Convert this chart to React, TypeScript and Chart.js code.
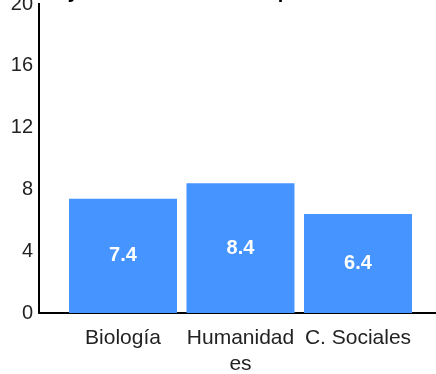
import React, { useEffect, useRef } from "react";
import { Chart, registerables } from "chart.js";

Chart.register(...registerables);

const categories: (string | string[])[] = ["Biología", ["Humanidad", "es"], "C. Sociales"];
const values = [7.4, 8.4, 6.4];
const yTicks = [0, 4, 8, 12, 16, 20];
const titleText = "Promedio y total de estudiantes por área";

const FONT = "Arial, 'Liberation Sans', sans-serif";
const BAR_COLOR = "#4694FF";

export default function App() {
  const ref = useRef<HTMLCanvasElement | null>(null);

  useEffect(() => {
    if (!ref.current) return;
    const valueLabels = {
      id: "valueLabels",
      afterDatasetsDraw(chart: any) {
        const ctx = chart.ctx;
        const meta = chart.getDatasetMeta(0);
        ctx.save();
        ctx.fillStyle = "#ffffff";
        ctx.font = `bold 20px ${FONT}`;
        ctx.textAlign = "center";
        ctx.textBaseline = "middle";
        meta.data.forEach((bar: any, i: number) => {
          const y = (bar.y + bar.base) / 2;
          ctx.fillText(values[i].toFixed(1), bar.x, y);
        });
        ctx.restore();
      },
    };

    const chart = new Chart(ref.current, {
      type: "bar",
      data: {
        datasets: [
          {
            data: values.map((v, i) => ({ x: i, y: v })),
            backgroundColor: BAR_COLOR,
            borderWidth: 0,
            barPercentage: 0.919,
            categoryPercentage: 1,
          },
        ],
      },
      options: {
        responsive: false,
        animation: false,
        events: [],
        layout: { padding: { left: 0, right: 10, top: 0, bottom: 0 } },
        plugins: {
          legend: { display: false },
          tooltip: { enabled: false },
          title: {
            display: true,
            text: titleText,
            align: "start",
            color: "#000",
            font: { family: FONT, size: 20, weight: "bold" },
            padding: { top: 20, bottom: 0 },
          },
        },
        scales: {
          x: {
            type: "linear",
            min: -0.7149,
            max: 2.9532,
            offset: false,
            grid: { display: false, drawTicks: false, offset: false },
            border: { display: true, color: "#000", width: 2 },
            afterBuildTicks: (scale: any) => {
              scale.ticks = categories.map((_, i) => ({ value: i }));
            },
            afterFit: (scale: any) => {
              scale.height = 61;
            },
            ticks: {
              autoSkip: false,
              maxRotation: 0,
              minRotation: 0,
              padding: 12,
              color: "#222",
              font: { family: FONT, size: 21, lineHeight: 1.24 },
              callback: (_v: any, i: number) => categories[i] as any,
            },
          },
          y: {
            min: 0,
            max: 20,
            grid: { display: false, drawTicks: false },
            border: { display: true, color: "#000", width: 2 },
            afterBuildTicks: (scale: any) => {
              scale.ticks = yTicks.map((v) => ({ value: v }));
            },
            afterFit: (scale: any) => {
              scale.width = 69;
            },
            ticks: {
              padding: 6,
              color: "#222",
              font: { family: FONT, size: 20 },
            },
          },
        },
      },
      plugins: [valueLabels],
    } as any);
    return () => chart.destroy();
  }, []);

  return (
    <div
      style={{
        position: "fixed",
        left: 0,
        top: 0,
        width: 436,
        height: 374,
        overflow: "hidden",
        background: "#fff",
      }}
    >
      <canvas
        ref={ref}
        width={510}
        height={414}
        style={{ position: "absolute", left: -30, top: -40, width: 510, height: 414 }}
      />
    </div>
  );
}
